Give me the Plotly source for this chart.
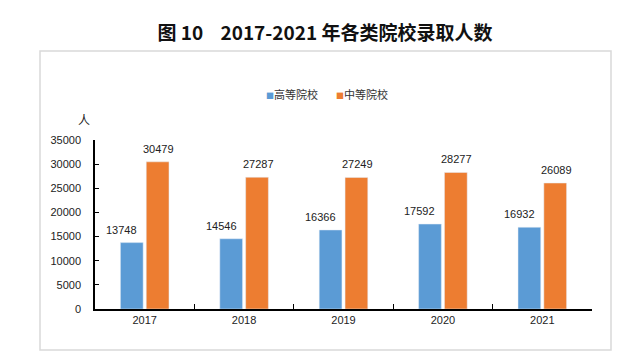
import plotly.graph_objects as go

years = ["2017", "2018", "2019", "2020", "2021"]
higher = [13748, 14546, 16366, 17592, 16932]
secondary = [30479, 27287, 27249, 28277, 26089]
series_names = ["高等院校", "中等院校"]
colors = ["#5B9BD5", "#ED7D31"]

FONT = "Liberation Sans, Arial, Noto Sans CJK SC, sans-serif"
CJK = "Noto Sans CJK SC, sans-serif"

L, R, T, B = 95, 592, 140, 309
W, H = 643, 363
pw, ph = R - L, B - T

def px(x):
    return (x - L) / pw

def py(y):
    return (B - y) / ph

fig = go.Figure()
label_shift = [-23, 14]
for name, vals, col, sh in zip(series_names, [higher, secondary], colors, label_shift):
    fig.add_trace(go.Bar(
        x=years, y=vals, name=name, marker_color=col,
        cliponaxis=False, showlegend=False,
    ))
    for i, v in enumerate(vals):
        # category axis: annotations use the category's serial number
        fig.add_annotation(x=i, y=v, text=str(v), showarrow=False,
                           xanchor="center", yanchor="bottom", xshift=sh, yshift=5,
                           font=dict(size=11, color="#222222", family=FONT))

fig.update_layout(
    width=W, height=H,
    margin=dict(l=L, r=W - R, t=T, b=H - B, pad=0),
    paper_bgcolor="white", plot_bgcolor="white",
    barmode="group", bargap=0.48, bargroupgap=0.12,
    font=dict(family=FONT, size=11, color="#222222"),
    title=dict(text="<b>图 10&nbsp;&nbsp;&nbsp;&nbsp;2017-2021 年各类院校录取人数</b>",
               x=px(325), xanchor="center", xref="paper", y=1 - 33 / H, yanchor="middle",
               font=dict(size=19, color="#111111", family=CJK)),
    showlegend=False,
)
fig.update_xaxes(type="category", categoryorder="array", categoryarray=years,
                 range=[-0.5, len(years) - 0.5],
                 showline=True, linecolor="black", linewidth=1.5,
                 ticks="inside", ticklen=5, tickcolor="black",
                 tickson="boundaries", showgrid=False,
                 tickfont=dict(size=11, family=FONT))
fig.update_yaxes(range=[0, 35000], dtick=5000, tickformat="d", showline=True,
                 linecolor="black", linewidth=1.5,
                 ticks="inside", ticklen=4, tickcolor="black", showgrid=False, zeroline=False,
                 tickfont=dict(size=11, family=FONT), ticklabelstandoff=10)

fig.add_shape(type="rect", xref="paper", yref="paper",
              x0=px(40), x1=px(611), y0=py(350), y1=py(51),
              line=dict(color="#D9D9D9", width=1.5), fillcolor="rgba(0,0,0,0)", layer="below")
fig.add_annotation(text="人", xref="paper", yref="paper", x=px(84), y=py(119),
                   xanchor="center", yanchor="middle",
                   showarrow=False, font=dict(size=12, family=CJK, color="#222222"))

# legend drawn as text items
leg_x = [264, 334]
for name, col, lx in zip(series_names, colors, leg_x):
    fig.add_annotation(
        text=f"<span style='color:{col};font-size:8px'>■</span>{name}",
        xref="paper", yref="paper", x=px(lx), y=py(94), xanchor="left", yanchor="middle",
        showarrow=False, font=dict(size=11, family=CJK, color="#333333"))

fig.write_html("out.html", config={"displayModeBar": False},
               post_script="document.body.style.margin='0';")
